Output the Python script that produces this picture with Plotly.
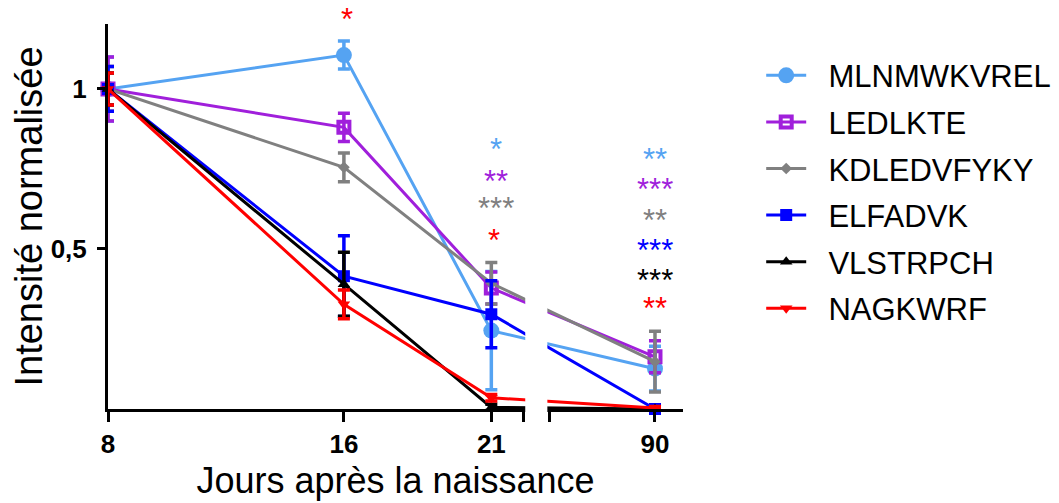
import plotly.graph_objects as go

# ---- data ----
days_labels = ["8", "16", "21", "90"]
# plotting positions on the broken axis (90 placed after the break)
x_pos = [8, 16, 21, 26.55]
break_left = 22.08
break_right = 22.98

series_names = ["MLNMWKVREL", "LEDLKTE", "KDLEDVFYKY", "ELFADVK", "VLSTRPCH", "NAGKWRF"]
mlnmwkvrel = [1.0, 1.106, 0.245, 0.126]
mlnmwkvrel_err = [0.10, 0.044, 0.185, 0.07]
ledlkte = [1.0, 0.88, 0.378, 0.163]
ledlkte_err = [0.10, 0.044, 0.05, 0.05]
kdledvfyky = [1.0, 0.755, 0.393, 0.148]
kdledvfyky_err = [0.07, 0.045, 0.065, 0.095]
elfadvk = [1.0, 0.415, 0.296, 0.0]
elfadvk_err = [0.07, 0.126, 0.105, 0.01]
vlstrpch = [1.0, 0.39, 0.005, 0.0]
vlstrpch_err = [0.05, 0.10, 0.01, 0.005]
nagkwrf = [1.0, 0.327, 0.035, 0.003]
nagkwrf_err = [0.05, 0.045, 0.01, 0.005]

values = [mlnmwkvrel, ledlkte, kdledvfyky, elfadvk, vlstrpch, nagkwrf]
errors = [mlnmwkvrel_err, ledlkte_err, kdledvfyky_err, elfadvk_err, vlstrpch_err, nagkwrf_err]
colors = ["#55A3F2", "#A01FDB", "#808080", "#0000FF", "#000000", "#FF0000"]
symbols = ["circle", "square-open", "diamond", "square", "triangle-up", "triangle-down"]
msizes = [16, 11, 9, 12, 11, 11]

# significance stars
star_text = ["*", "*", "**", "***", "*", "**", "***", "**", "***", "***", "**"]
star_x = [16.12, 21.15, 21.15, 21.15, 21.1, 26.55, 26.55, 26.55, 26.55, 26.55, 26.55]
star_y = [1.233, 0.825, 0.727, 0.642, 0.542, 0.795, 0.700, 0.606, 0.512, 0.418, 0.330]
star_color = ["#FF0000", "#55A3F2", "#A01FDB", "#808080", "#FF0000",
              "#55A3F2", "#A01FDB", "#808080", "#0000FF", "#000000", "#FF0000"]

FONT = "Arial, Liberation Sans, sans-serif"
PAD = "\u00a0\u00a0"

# page has an 8px body margin: figure is sized/offset to compensate
W, H = 1051, 495
ML, MR, MT, MB = 99.6, 376, 16, 94
Y_MAX = 1.203
px_per_unit = (H - MT - MB) / Y_MAX

fig = go.Figure()
for i, name in enumerate(series_names):
    mline = dict(color=colors[i], width=4) if symbols[i] == "square-open" else dict(width=0)
    fig.add_trace(go.Scatter(
        x=x_pos, y=values[i], name=PAD + name, mode="lines+markers",
        line=dict(color=colors[i], width=3),
        marker=dict(color=colors[i], symbol=symbols[i], size=msizes[i], line=mline),
        error_y=dict(type="data", array=errors[i], color=colors[i], thickness=3.5, width=6),
        cliponaxis=False, legendgroup=name,
    ))

for t, xx, yy, c in zip(star_text, star_x, star_y, star_color):
    ya = min(yy, Y_MAX)
    fig.add_annotation(x=xx, y=ya, text=t, showarrow=False,
                       yshift=-5 + (yy - ya) * px_per_unit,
                       font=dict(family=FONT, size=31, color=c))

# axis break
fig.add_shape(type="rect", xref="x", yref="paper", x0=break_left + 0.07, x1=break_right - 0.08,
              y0=-0.012, y1=1.0, fillcolor="white", line=dict(width=0), layer="above")

fig.update_layout(
    width=W, height=H,
    margin=dict(l=ML, r=MR, t=MT, b=MB, autoexpand=False),
    paper_bgcolor="white", plot_bgcolor="white",
    font=dict(family=FONT, color="black"),
    showlegend=True,
    legend=dict(x=1.136, y=0.936, xanchor="left", yanchor="top",
                font=dict(family=FONT, size=31, color="black"),
                itemwidth=40, tracegroupgap=3.3, bgcolor="rgba(0,0,0,0)"),
)
fig.update_xaxes(
    range=[8, 27.5], showgrid=False, zeroline=False, automargin=False,
    showline=True, linecolor="black", linewidth=3,
    ticks="outside", ticklen=10, tickwidth=3, tickcolor="black",
    tickvals=[x_pos[0], x_pos[1], x_pos[2], break_left, break_right, x_pos[3]],
    ticktext=["<b>" + days_labels[0] + "</b>", "<b>" + days_labels[1] + "</b>",
              "<b>" + days_labels[2] + "</b>", "", "", "<b>" + days_labels[3] + "</b>"],
    tickfont=dict(family=FONT, size=26, color="black"),
    title=dict(text="Jours après la naissance", font=dict(family=FONT, size=36, color="black"), standoff=10),
)
fig.update_yaxes(
    range=[0, Y_MAX], showgrid=False, zeroline=False, automargin=False,
    showline=True, linecolor="black", linewidth=3,
    ticks="outside", ticklen=8, tickwidth=3, tickcolor="black",
    tickvals=[0.5, 1.0], ticktext=["<b>0,5</b>", "<b>1</b>"],
    tickfont=dict(family=FONT, size=26, color="black"), ticklabelstandoff=5,
    title=dict(text="Intensité normalisée", font=dict(family=FONT, size=38, color="black"), standoff=5),
)

fig.write_html("out.html")
